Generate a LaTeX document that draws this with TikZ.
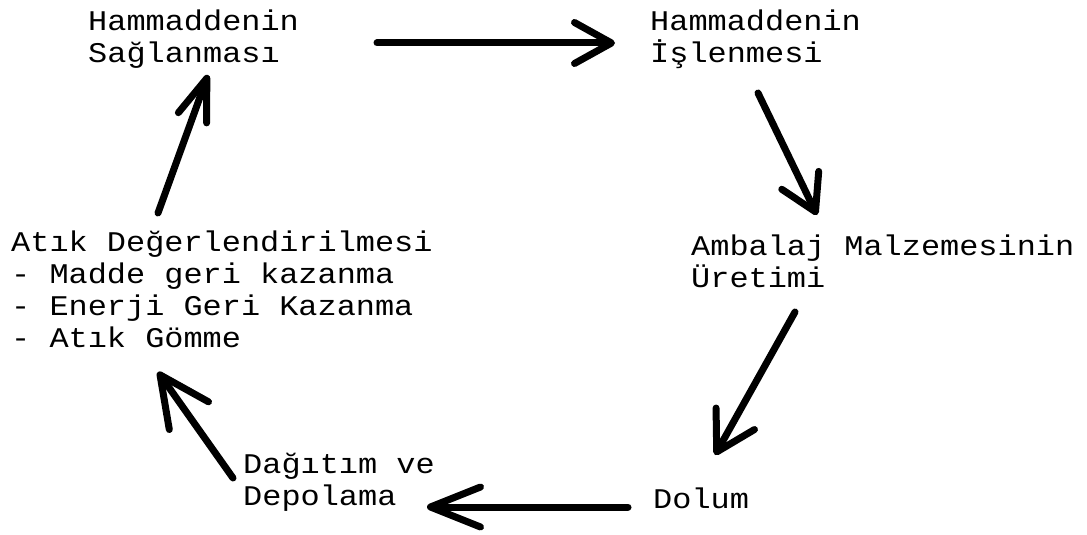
\documentclass[tikz,border=0pt]{standalone}
\usepackage{fontspec}
\usetikzlibrary{arrows.meta}
\newfontfamily\dmfont{Liberation Mono}[FakeStretch=1.12]
\begin{document}
\begin{tikzpicture}[x=1pt,y=-1pt,
  lbl/.style={anchor=north west,inner sep=0pt,align=left,
    font=\dmfont\fontsize{28.5}{32}\selectfont},
  arr/.style={line width=7pt,line cap=round}]
\useasboundingbox (0,0) rectangle (1087,535);
% labels
\node[lbl] (sag) at (88,10) {Hammaddenin\\Sağlanması};
\node[lbl] (isl) at (650,10) {Hammaddenin\\İşlenmesi};
\node[lbl] (amb) at (691,235) {Ambalaj Malzemesinin\\Üretimi};
\node[lbl] (atik) at (11,231) {Atık Değerlendirilmesi\\- Madde geri kazanma\\- Enerji Geri Kazanma\\- Atık Gömme};
\node[lbl] (dag) at (243,453) {Dağıtım ve\\Depolama};
\node[lbl] (dol) at (653,488) {Dolum};
% arrow ends
\coordinate (a1s) at (377,43);  \coordinate (a1e) at (615,43);
\coordinate (a2s) at (758,93);  \coordinate (a2e) at (817,215);
\coordinate (a3s) at (795,312); \coordinate (a3e) at (715,455);
\coordinate (a4s) at (628,507); \coordinate (a4e) at (427,507);
\coordinate (a5s) at (233,478); \coordinate (a5e) at (158,372);
\coordinate (a6s) at (158,213); \coordinate (a6e) at (208,75);
% arrows
\draw[arr,-{Straight Barb[length=37pt,width=41pt,round]}] (a1s) -- (a1e);
\draw[arr,-{Straight Barb[length=35pt,width=41pt,round]}] (a2s) -- (a2e);
\draw[arr,-{Straight Barb[length=38pt,width=44pt,round]}] (a3s) -- (a3e);
\draw[arr,-{Straight Barb[length=50pt,width=40pt,round]}] (a4s) -- (a4e);
\draw[arr,-{Straight Barb[length=50pt,width=48pt,round]}] (a5s) -- (a5e);
\draw[arr,-{Straight Barb[length=42pt,width=30pt,round]}] (a6s) -- (a6e);
\end{tikzpicture}
\end{document}
